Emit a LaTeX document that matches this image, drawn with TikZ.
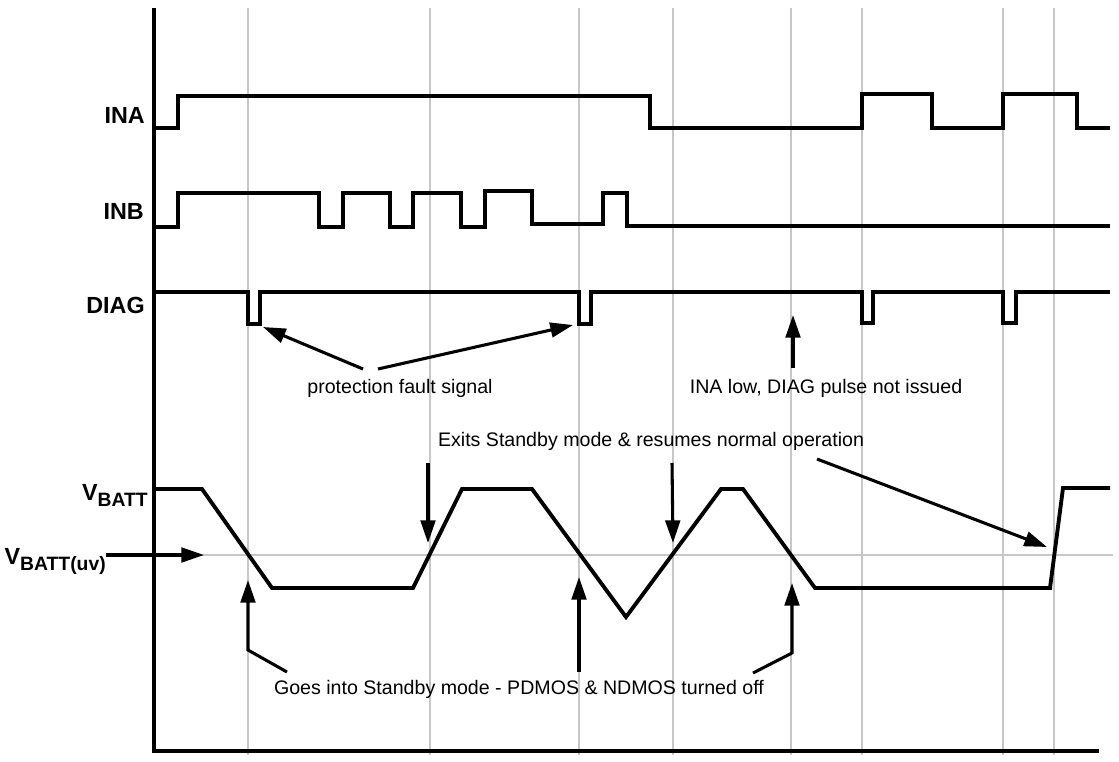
\documentclass[tikz,border=0pt]{standalone}
\usepackage{fontspec}
\setmainfont{Liberation Sans}
\usetikzlibrary{positioning,arrows.meta}

\tikzset{
  sig/.style={line width=2.9pt,line join=miter},
  axisline/.style={line width=3.2pt},
  gridln/.style={black!22,line width=0.9pt},
  callout/.style={line width=2.3pt,-{Triangle[length=17pt,width=11pt]}},
  siglabel/.style={font=\fontsize{17.5}{20}\selectfont\bfseries,anchor=base east,inner sep=0pt},
  note/.style={font=\fontsize{14.7}{17}\selectfont,anchor=base,inner sep=0pt},
}
\newcommand{\subtxt}[1]{\raisebox{-4.5pt}{\fontsize{14.5}{16}\selectfont #1}}

\begin{document}
\begin{tikzpicture}[x=0.75pt,y=-0.75pt]
  \useasboundingbox (0,0) rectangle (1119,761);
  % grid
  \foreach \x in {248,430,579,673,791,862,1003,1054}
    \draw[gridln] (\x,8) -- (\x,755);
  \draw[gridln] (154,555) -- (1113,555);
  % axes
  \draw[axisline] (154,8) -- (154,751) -- (1099,751);

  % signal names
  \node[siglabel] (lblINA)  at (145,123) {INA};
  \node[siglabel] (lblINB)  at (144,219) {INB};
  \node[siglabel] (lblDIAG) at (145,313) {DIAG};
  \node[siglabel] (lblVB)   at (148,500) {V\subtxt{BATT}};
  \node[siglabel] (lblVBuv) at (106,564) {V\subtxt{BATT(uv)}};

  % INA
  \draw[sig] (154,128) -- (178,128) -- (178,96) -- (650,96) -- (650,128)
    -- (862,128) -- (862,94) -- (932,94) -- (932,128) -- (1003,128)
    -- (1003,94) -- (1077,94) -- (1077,128) -- (1110,128);
  % INB
  \draw[sig] (154,227) -- (178,227) -- (178,193) -- (319,193) -- (319,227)
    -- (343,227) -- (343,193) -- (390,193) -- (390,227) -- (413,227)
    -- (413,193) -- (461,193) -- (461,227) -- (485,227) -- (485,191)
    -- (532,191) -- (532,224) -- (603,224) -- (603,193) -- (627,193)
    -- (627,226) -- (1110,226);
  % DIAG
  \draw[sig] (154,292) -- (248,292) -- (248,324) -- (260,324) -- (260,292)
    -- (579,292) -- (579,324) -- (591,324) -- (591,292) -- (862,292)
    -- (862,323) -- (873,323) -- (873,292) -- (1003,292) -- (1003,323)
    -- (1016,323) -- (1016,292) -- (1110,292);
  % VBATT
  \draw[sig] (154,489) -- (202,489) -- (272,588) -- (413,588) -- (462,489)
    -- (532,489) -- (626,617) -- (721,489) -- (743,489) -- (815,588)
    -- (1050,588) -- (1063,488) -- (1110,488);

  % notes
  \node[note] (txtfault) at (400,393) {protection fault signal};
  \node[note] (txtinalow) at (826,393) {INA low, DIAG pulse not issued};
  \node[note] (txtexit) at (651,446) {Exits Standby mode \& resumes normal operation};
  \node[note] (txtgoes) at (519,694) {Goes into Standby mode - PDMOS \& NDMOS turned off};

  % callout points
  \coordinate (uvtail) at (106,555);
  \coordinate (uvtip) at (204,555);
  \coordinate (fltA) at (363,369);
  \coordinate (fltAtip) at (263,327);
  \coordinate (fltB) at (378,369);
  \coordinate (fltBtip) at (573,325);
  \coordinate (lowtail) at (793,368);
  \coordinate (lowtip) at (793,315);
  \coordinate (exA) at (428,463);
  \coordinate (exAtip) at (428,543);
  \coordinate (exB) at (672,463);
  \coordinate (exBtip) at (673,543);
  \coordinate (exC) at (817,459);
  \coordinate (exCtip) at (1047,547);
  \coordinate (goA) at (287,672);
  \coordinate (goAbend) at (248,650);
  \coordinate (goAtip) at (248,580);
  \coordinate (goB) at (579,672);
  \coordinate (goBtip) at (579,577);
  \coordinate (goC) at (753,673);
  \coordinate (goCbend) at (792,653);
  \coordinate (goCtip) at (792,583);

  % arrows
  \draw[callout] (uvtail) -- (uvtip);
  \draw[callout] (fltA) -- (fltAtip);
  \draw[callout] (fltB) -- (fltBtip);
  \draw[callout] (lowtail) -- (lowtip);
  \draw[callout] (exA) -- (exAtip);
  \draw[callout] (exB) -- (exBtip);
  \draw[callout] (exC) -- (exCtip);
  \draw[callout] (goA) -- (goAbend) -- (goAtip);
  \draw[callout] (goB) -- (goBtip);
  \draw[callout] (goC) -- (goCbend) -- (goCtip);
\end{tikzpicture}
\end{document}
